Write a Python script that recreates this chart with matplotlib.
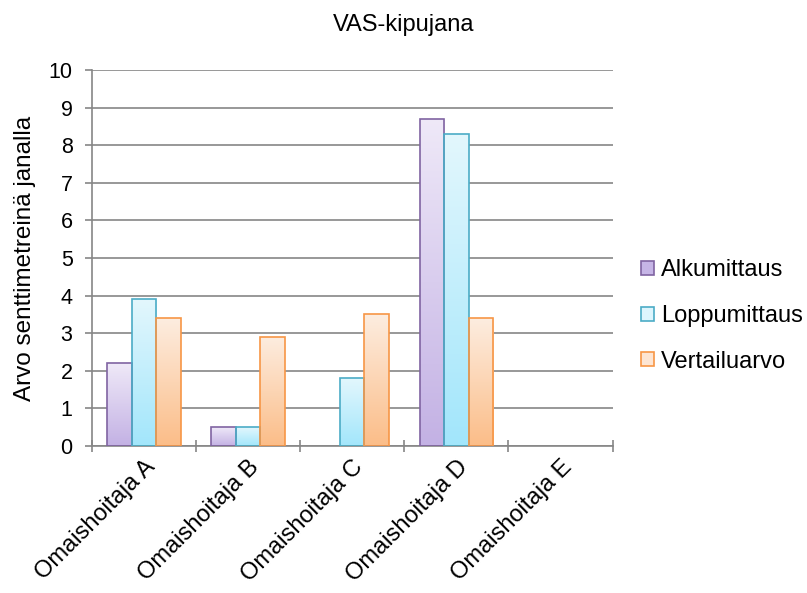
import numpy as np
import matplotlib
matplotlib.use("Agg")
import matplotlib.pyplot as plt
from matplotlib.patches import Patch
from matplotlib.colors import LinearSegmentedColormap

plt.rcParams['font.family'] = ['Liberation Sans', 'DejaVu Sans']

categories = ["Omaishoitaja A", "Omaishoitaja B", "Omaishoitaja C",
              "Omaishoitaja D", "Omaishoitaja E"]
series_names = ["Alkumittaus", "Loppumittaus", "Vertailuarvo"]
alkumittaus = [2.2, 0.5, 0.0, 8.7, 0.0]
loppumittaus = [3.9, 0.5, 1.8, 8.3, 0.0]
vertailuarvo = [3.4, 2.9, 3.5, 3.4, 0.0]
series_values = [alkumittaus, loppumittaus, vertailuarvo]

# (top colour, bottom colour, edge colour, legend fill)
styles = [
    ("#EFE9F8", "#C3B1E4", "#8064A2", "#C6B5E6"),
    ("#E3F7FD", "#A2E6FB", "#4BACC6", "#DDF5FD"),
    ("#FDEDE0", "#FBBD88", "#F79646", "#FDE5D3"),
]

fig = plt.figure(figsize=(8.07, 5.93), dpi=100)
ax = fig.add_axes([0.114, 0.248, 0.645, 0.634])

x = np.arange(len(categories))
width = 0.235
offsets = [-width, 0, width]

grad = np.linspace(0, 1, 256).reshape(-1, 1)
for vals, off, (top, bottom, edge, _) in zip(series_values, offsets, styles):
    cmap = LinearSegmentedColormap.from_list("g", [top, bottom])
    bars = ax.bar(x + off, vals, width=width, facecolor="none",
                  edgecolor=edge, linewidth=1.2, zorder=3)
    for b, v in zip(bars, vals):
        if v <= 0:
            b.set_visible(False)
            continue
        x0 = b.get_x()
        im = ax.imshow(grad, cmap=cmap, aspect="auto", origin="upper",
                       extent=(x0, x0 + b.get_width(), 0, v), zorder=2.5,
                       interpolation="bicubic")
        im.set_clip_path(b)

ax.set_xlim(-0.5, len(categories) - 0.5)
ax.set_ylim(0, 10)
ax.set_yticks(range(0, 11))
ax.set_xticks(np.arange(-0.5, len(categories), 1.0), minor=False)
ax.set_xticklabels([])
ax.set_xticks(x, minor=True)
ax.set_xticklabels(categories, minor=True, rotation=45, ha="right", va="top",
                   rotation_mode="anchor", fontsize=17)
ax.tick_params(axis="x", which="minor", length=0, pad=7)
ax.tick_params(axis="x", which="major", length=8, width=1.2, color="#868686",
               direction="inout")
ax.tick_params(axis="y", length=5, width=1.2, color="#868686", direction="out",
               labelsize=15.5, pad=9)

ax.grid(axis="y", color="#868686", linewidth=1.2, zorder=0)
ax.set_axisbelow(True)
for side in ("top", "right"):
    ax.spines[side].set_visible(False)
for side in ("left", "bottom"):
    ax.spines[side].set_color("#868686")
    ax.spines[side].set_linewidth(1.2)

ax.set_ylabel("Arvo senttimetreinä janalla", fontsize=17.5, labelpad=9)
fig.text(0.5, 0.958, "VAS-kipujana", ha="center", va="center", fontsize=17)

handles = [Patch(facecolor=s[3], edgecolor=s[2], linewidth=1.2, label=n)
           for n, s in zip(series_names, styles)]
fig.legend(handles=handles, loc="center left", bbox_to_anchor=(0.794, 0.467),
           frameon=False, fontsize=17, handlelength=0.55, handleheight=0.55,
           handletextpad=0.3, labelspacing=1.0, borderpad=0, borderaxespad=0)

fig.savefig("out.png", dpi=100)
